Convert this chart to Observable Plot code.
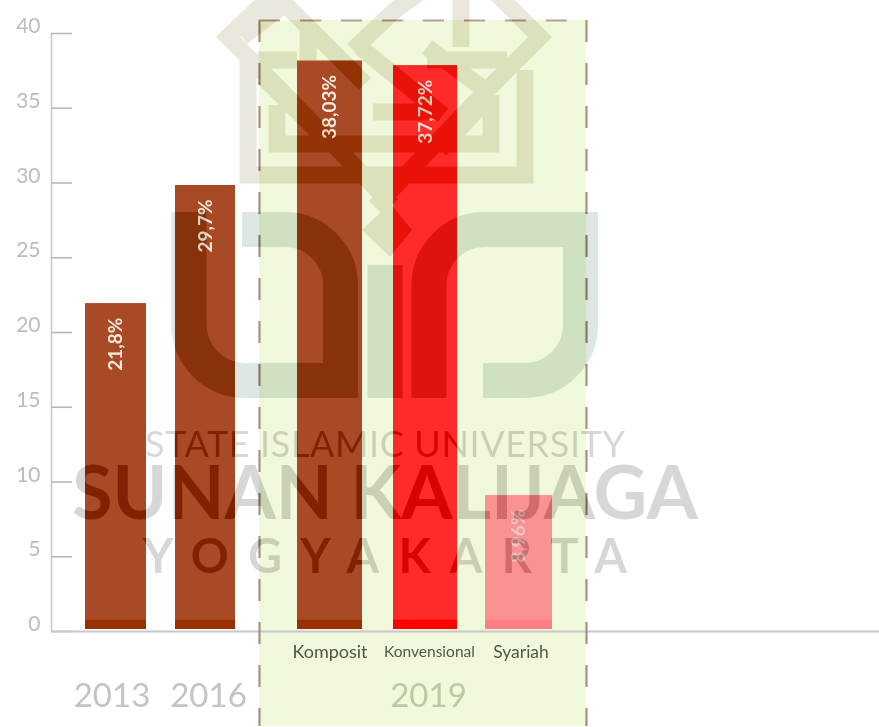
<!DOCTYPE html>
<html>
<head>
<meta charset="utf-8">
<style>
html,body{margin:0;padding:0;background:#fff;overflow:hidden}
#chart{width:879px;height:727px;background:#fff;isolation:isolate;filter:blur(0.7px);overflow:hidden}
#chart svg{display:block;background:#fff}
</style>
<script src="https://cdn.jsdelivr.net/npm/d3@7"></script>
<script src="https://cdn.jsdelivr.net/npm/@observablehq/plot@0.6"></script>
</head>
<body>
<div id="chart"></div>
<script>
// ---- data ----
const categories = ["2013", "2016", "Komposit", "Konvensional", "Syariah"];
const values = [21.8, 29.7, 38.03, 37.72, 8.96];
const valueLabels = ["21,8%", "29,7%", "38,03%", "37,72%", "8,96%"];
const barColors = ["#a84a26", "#a84a26", "#a84a26", "#ff2a2a", "#fa9292"];
const baseColors = ["#9c2f00", "#9c2f00", "#9c2f00", "#ff0000", "#fb7f84"];
const labelColors = ["#fbe9dc", "#fbe9dc", "#fbe9dc", "#fbdcd4", "#e8c8c8"];
const yearLabels = ["2013", "2016", "2019"];
const yTicks = [0, 5, 10, 15, 20, 25, 30, 35, 40];

// ---- x scale layout: named stops along a piecewise scale ----
const stopNames = ["start","axis","tickEnd","2013a","2013b","2016a","2016b","panelA","Komposita","Kompositb",
  "Konvensionala","Konvensionalb","Syariaha","Syariahb","panelB","end"];
const stopPixels = [0,51,72,85,146,175,235,259,297,362,393,457,485,552,586,879];
const at = name => stopNames.indexOf(name);

const rows = categories.map((c, i) => ({
  c, v: values[i], label: valueLabels[i], fill: barColors[i], base: baseColors[i], lc: labelColors[i],
  a: at(c + "a"), b: at(c + "b"), m: at(c + "a") + 0.5
}));
const yBottom = -6.35, yTop = 40.87;
const F = "Lato, 'Open Sans', sans-serif";

// Faded university watermark laid over the figure
function watermark() {
  const g = d3.create("svg:g").attr("style", "mix-blend-mode:difference");
  const latticeColor = "rgb(21,24,34)";
  const lattice = [
    "M275,-8 L228,37 L264,73 L392,205",
    "M495,-8 L540,37 L485,92 L375,207",
    "M248,53 L248,175 L525,175 L525,70",
    "M277,105 L277,144 L491,144 L491,95",
    "M242,37 L285,4 L365,84",
    "M263,77 L330,144",
    "M308,25 L308,60",
    "M461,-5 L461,47",
    "M258,60 L297,60",
    "M427,60 L507,60",
    "M373,112 L440,112",
    "M353,50 L395,10 L420,-8",
    "M360,47 L443,115",
    "M427,47 L492,95",
    "M491,95 L440,150"
  ].join(" ");
  g.append("path").attr("d", lattice).attr("fill", "none")
    .attr("stroke", latticeColor).attr("stroke-width", 17);
  g.append("path").attr("d", "M362,230 L390,203 L412,230 L390,257Z").attr("fill", latticeColor);
  const uin = "M242,229.5 L285,229.5 A55.5,55.5 0 0 1 340.5,285 L340.5,380.5 L245,380.5 A56,56 0 0 1 189,325 L189,212 "
    + "M429,398 L429,285 A55.5,55.5 0 0 1 484.5,229.5 L580.5,229.5 L580.5,325 A55.5,55.5 0 0 1 525,380.5 L483,380.5 "
    + "M385,265 L385,398";
  g.append("path").attr("d", uin).attr("fill", "none")
    .attr("stroke", "rgb(33,24,27)").attr("stroke-width", 35);
  const words = [
    ["STATE ISLAMIC UNIVERSITY", 145, 457, 36, 480, 400],
    ["SUNAN KALIJAGA", 72, 519, 74, 626, 700],
    ["YOGYAKARTA", 143, 573, 47, 484, 700]
  ];
  for (const [t, x, y, s, w, fw] of words) {
    g.append("text").attr("x", x).attr("y", y).attr("font-size", s).attr("font-family", F).attr("font-weight", fw)
      .attr("text-anchor", "start").attr("fill", "rgb(40,40,40)")
      .attr("textLength", w).attr("lengthAdjust", "spacing").text(t);
  }
  return g.node();
}

const subLabel = (t, size, dx) => Plot.text([t], {x: at(t + "a") + 0.5, y: 0, text: d => d, dy: 21, dx,
  fontSize: size, fill: "#50574a"});
const yearLabel = (t, stop, dx, fill) => Plot.text([t], {x: at(stop) + 0.5, y: 0, text: d => d, dy: 65, dx,
  fontSize: 33, fontWeight: 400, fill});

const chart = Plot.plot({
  width: 879, height: 727,
  marginTop: 33, marginBottom: 96, marginLeft: 0, marginRight: 0,
  style: {fontFamily: F, background: "#fff"},
  x: {type: "linear", domain: stopPixels.map((_, i) => i), range: stopPixels, axis: null},
  y: {domain: [0, 40], axis: null},
  marks: [
    // highlighted panel for 2019
    Plot.rect([0], {x1: at("panelA"), x2: at("panelB"), y1: yBottom, y2: yTop, fill: "#f0f9dc"}),
    // y axis
    Plot.ruleX([0], {x: at("axis"), y1: 0, y2: 40, stroke: "#c6c9d0", strokeWidth: 1.6}),
    Plot.ruleY(yTicks, {x1: at("axis"), x2: at("tickEnd"), stroke: "#b8b8b8", strokeWidth: 1.6}),
    Plot.text(yTicks, {x: at("axis"), y: d => d, text: String, textAnchor: "end", dx: -11, dy: -7,
      fontSize: 21, fontWeight: 400, fill: "#bcbcbc"}),
    Plot.ruleY([0], {x1: at("axis"), x2: at("end"), stroke: "#c6c8cc", strokeWidth: 2}),
    // bars
    Plot.rect(rows, {x1: "a", x2: "b", y1: 0, y2: "v", fill: "fill", insetBottom: 2, insetTop: -2}),
    Plot.rect(rows, {x1: "a", x2: "b", y1: 0, y2: 0.75, fill: "base", insetBottom: 2}),
    // rotated value labels
    Plot.text(rows, {x: "m", y: "v", text: "label", rotate: -90, textAnchor: "end", dy: 12,
      fontSize: 19, fontWeight: 700, fill: "lc"}),
    // dashed outline of the panel
    Plot.ruleX([at("panelA"), at("panelB")], {y1: yTop, y2: yBottom, stroke: "#a8917f", strokeWidth: 2.2, strokeDasharray: "22,21"}),
    Plot.ruleY([yTop], {x1: at("panelA"), x2: at("panelB"), stroke: "#b8a08e", strokeWidth: 2.2, strokeDasharray: "21,20"}),
    // sub-category and year labels
    subLabel("Komposit", 18, 0),
    subLabel("Konvensional", 15.5, 4),
    subLabel("Syariah", 17.5, 2),
    yearLabel("2013", "2013a", -4, "#c4c4c4"),
    yearLabel("2016", "2016a", 3, "#c4c4c4"),
    yearLabel("2019", "Konvensionala", 3, "#bcc8a8"),
    watermark
  ]
});
document.getElementById("chart").appendChild(chart);
</script>
</body>
</html>
